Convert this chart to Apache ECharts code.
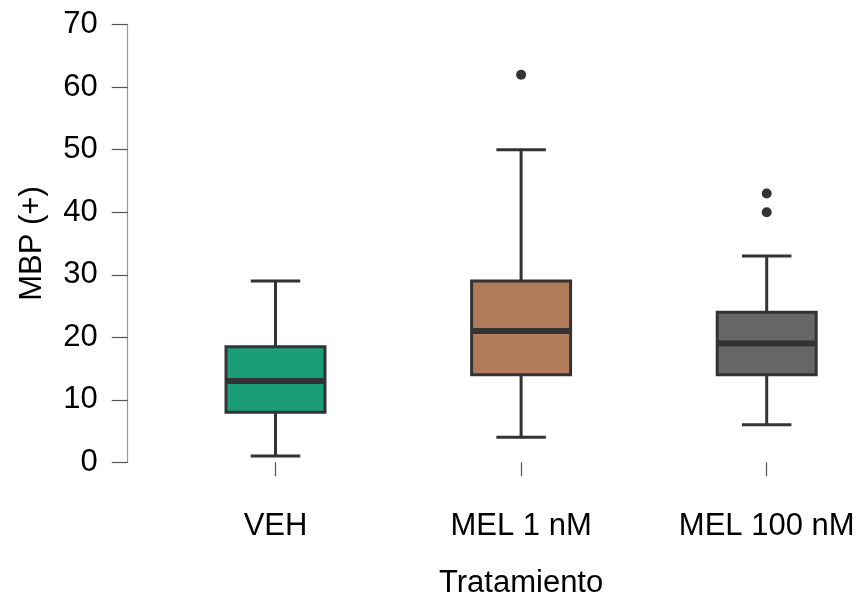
<!DOCTYPE html>
<html><head><meta charset="utf-8">
<script src="https://cdn.jsdelivr.net/npm/echarts@6/dist/echarts.min.js"></script>
<style>html,body{margin:0;padding:0;background:#fff}#c{width:862px;height:598px}</style>
</head><body><div id="c"></div>
<script>
const categories = ['VEH', 'MEL 1 nM', 'MEL 100 nM'];
const whiskerLow = [1, 4, 6];
const q1 = [8, 14, 14];
const median = [13, 21, 19];
const q3 = [18.5, 29, 24];
const whiskerHigh = [29, 50, 33];
const outlierCat = ['MEL 1 nM', 'MEL 100 nM', 'MEL 100 nM'];
const outlierVal = [62, 43, 40];
const boxColors = ['#1b9e77', '#b07c5b', '#666666'];
const yTicks = [0, 10, 20, 30, 40, 50, 60, 70];

const boxData = categories.map((c, i) => [i, whiskerLow[i], q1[i], median[i], q3[i], whiskerHigh[i]]);
const outData = outlierCat.map((c, i) => [c, outlierVal[i]]);

const FONT = 'Liberation Sans, Arial, sans-serif';
const FS = 31;
const chart = echarts.init(document.getElementById('c'));
chart.setOption({
  animation: false,
  grid: { left: 152.7, right: -27.5, top: 24.7, bottom: 135.7, outerBoundsMode: 'none', containLabel: false },
  xAxis: {
    type: 'category', data: categories, offset: 23,
    axisLine: { show: false },
    axisTick: { show: true, alignWithLabel: true, length: 14, lineStyle: { color: '#555', width: 1.2 } },
    axisLabel: { fontFamily: FONT, fontSize: FS, color: '#000', margin: 26 },
    name: 'Tratamiento', nameLocation: 'middle', nameGap: 83,
    nameTextStyle: { fontFamily: FONT, fontSize: FS, color: '#000' },
    splitLine: { show: false }
  },
  yAxis: {
    type: 'value', min: 0, max: 70, interval: 10, offset: 25,
    axisLine: { show: true, lineStyle: { color: '#999', width: 1.2 } },
    axisTick: { show: true, length: 16, lineStyle: { color: '#555', width: 1.2 } },
    axisLabel: { fontFamily: FONT, fontSize: FS, color: '#000', margin: 30,
      formatter: v => yTicks.includes(v) ? String(v) : '' },
    splitLine: { show: false },
    name: 'MBP (+)', nameLocation: 'middle', nameGap: 80, nameRotate: 90,
    nameTextStyle: { fontFamily: FONT, fontSize: FS, color: '#000' }
  },
  series: [
    {
      type: 'custom',
      data: boxData,
      encode: { x: 0, y: [1, 2, 3, 4, 5] },
      renderItem: function (params, api) {
        const i = api.value(0);
        const band = api.size([1, 0])[0];
        const bw = band * 0.403;
        const cw = bw / 2;
        const pLow = api.coord([i, api.value(1)]);
        const pQ1 = api.coord([i, api.value(2)]);
        const pMed = api.coord([i, api.value(3)]);
        const pQ3 = api.coord([i, api.value(4)]);
        const pHigh = api.coord([i, api.value(5)]);
        const x = pMed[0];
        const ls = { stroke: '#333333', lineWidth: 3 };
        return {
          type: 'group',
          children: [
            { type: 'line', shape: { x1: x, y1: pHigh[1], x2: x, y2: pQ3[1] }, style: ls },
            { type: 'line', shape: { x1: x, y1: pQ1[1], x2: x, y2: pLow[1] }, style: ls },
            { type: 'line', shape: { x1: x - cw / 2, y1: pHigh[1], x2: x + cw / 2, y2: pHigh[1] }, style: ls },
            { type: 'line', shape: { x1: x - cw / 2, y1: pLow[1], x2: x + cw / 2, y2: pLow[1] }, style: ls },
            { type: 'rect', shape: { x: x - bw / 2, y: pQ3[1], width: bw, height: pQ1[1] - pQ3[1] },
              style: { fill: boxColors[params.dataIndex], stroke: '#333333', lineWidth: 3 } },
            { type: 'line', shape: { x1: x - bw / 2, y1: pMed[1], x2: x + bw / 2, y2: pMed[1] },
              style: { stroke: '#333333', lineWidth: 6 } }
          ]
        };
      }
    },
    {
      type: 'scatter',
      data: outData,
      symbol: 'circle',
      symbolSize: 10,
      itemStyle: { color: '#333333', opacity: 1 }
    }
  ]
});
</script>
</body></html>
